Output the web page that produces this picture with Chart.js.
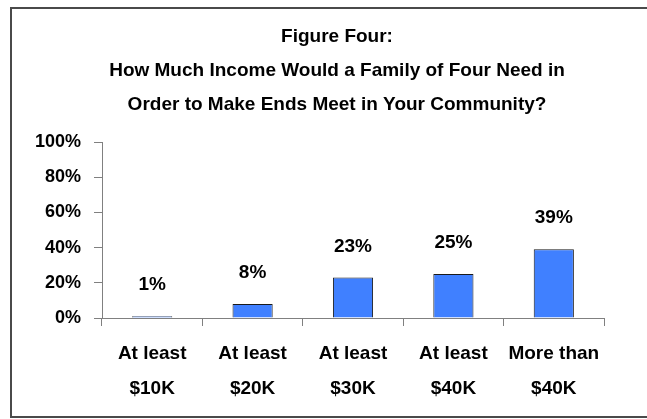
<!DOCTYPE html>
<html>
<head>
<meta charset="utf-8">
<script src="https://cdn.jsdelivr.net/npm/chart.js@4"></script>
<style>
  html, body { margin: 0; padding: 0; background: #fff; }
  #wrap { width: 647px; height: 419px; }
</style>
</head>
<body>
<div id="wrap"><canvas id="incomeChart" width="647" height="419"></canvas></div>
<script>
const categories = [
    ['At least', '$10K'],
    ['At least', '$20K'],
    ['At least', '$30K'],
    ['At least', '$40K'],
    ['More than', '$40K']
];
const percents = [1, 8, 23, 25, 39];
const titleLines = [
    'Figure Four:',
    'How Much Income Would a Family of Four Need in',
    'Order to Make Ends Meet in Your Community?'
];

const FONT = "'Liberation Sans', Arial, sans-serif";

// frame + title drawn on the canvas
const frameTitle = {
    id: 'frameTitle',
    beforeDraw(chart) {
        const c = chart.ctx;
        c.save();
        c.fillStyle = '#fff';
        c.fillRect(0, 0, chart.width, chart.height);
        c.strokeStyle = '#4a4a4a';
        c.lineWidth = 2;
        c.strokeRect(11, 8, 650, 409);
        c.fillStyle = '#000';
        c.font = 'bold 19px ' + FONT;
        c.textAlign = 'center';
        c.textBaseline = 'alphabetic';
        titleLines.forEach((t, i) => c.fillText(t, 337, 42 + i * 34));
        c.restore();
    }
};

// value labels above the bars
const barLabels = {
    id: 'barLabels',
    afterDatasetsDraw(chart) {
        const c = chart.ctx;
        const meta = chart.getDatasetMeta(0);
        c.save();
        c.fillStyle = '#000';
        c.font = 'bold 19px ' + FONT;
        c.textAlign = 'center';
        c.textBaseline = 'alphabetic';
        meta.data.forEach((bar, i) => {
            c.fillText(percents[i] + '%', bar.x, bar.y - 26);
        });
        c.restore();
    }
};

const ctx = document.getElementById('incomeChart').getContext('2d');
const incomeChart = new Chart(ctx, {
    type: 'bar',
    data: {
        labels: categories,
        datasets: [{
            data: percents,
            backgroundColor: '#4080ff',
            borderColor: '#1a1a1a',
            borderWidth: 1,
            barPercentage: 0.4,
            categoryPercentage: 1
        }]
    },
    options: {
        responsive: false,
        animation: false,
        layout: { padding: { left: 0, right: 43, top: 142, bottom: 0 } },
        plugins: {
            legend: { display: false },
            tooltip: { enabled: false }
        },
        scales: {
            x: {
                afterFit(s) { s.height = 101; },
                grid: {
                    offset: true,
                    drawOnChartArea: false,
                    tickLength: 8,
                    color: '#808080'
                },
                border: { color: '#808080', width: 1 },
                ticks: {
                    color: '#000',
                    padding: 11,
                    maxRotation: 0,
                    autoSkip: false,
                    font: { family: FONT, size: 19, weight: 'bold', lineHeight: 1.8 }
                }
            },
            y: {
                min: 0,
                max: 100,
                afterFit(s) { s.width = 102; },
                grid: {
                    drawOnChartArea: false,
                    tickLength: 8,
                    color: '#808080'
                },
                border: { color: '#808080', width: 1 },
                ticks: {
                    stepSize: 20,
                    color: '#000',
                    padding: 13,
                    font: { family: FONT, size: 18, weight: 'bold' },
                    callback: v => v + '%'
                }
            }
        }
    },
    plugins: [frameTitle, barLabels]
});
</script>
</body>
</html>
